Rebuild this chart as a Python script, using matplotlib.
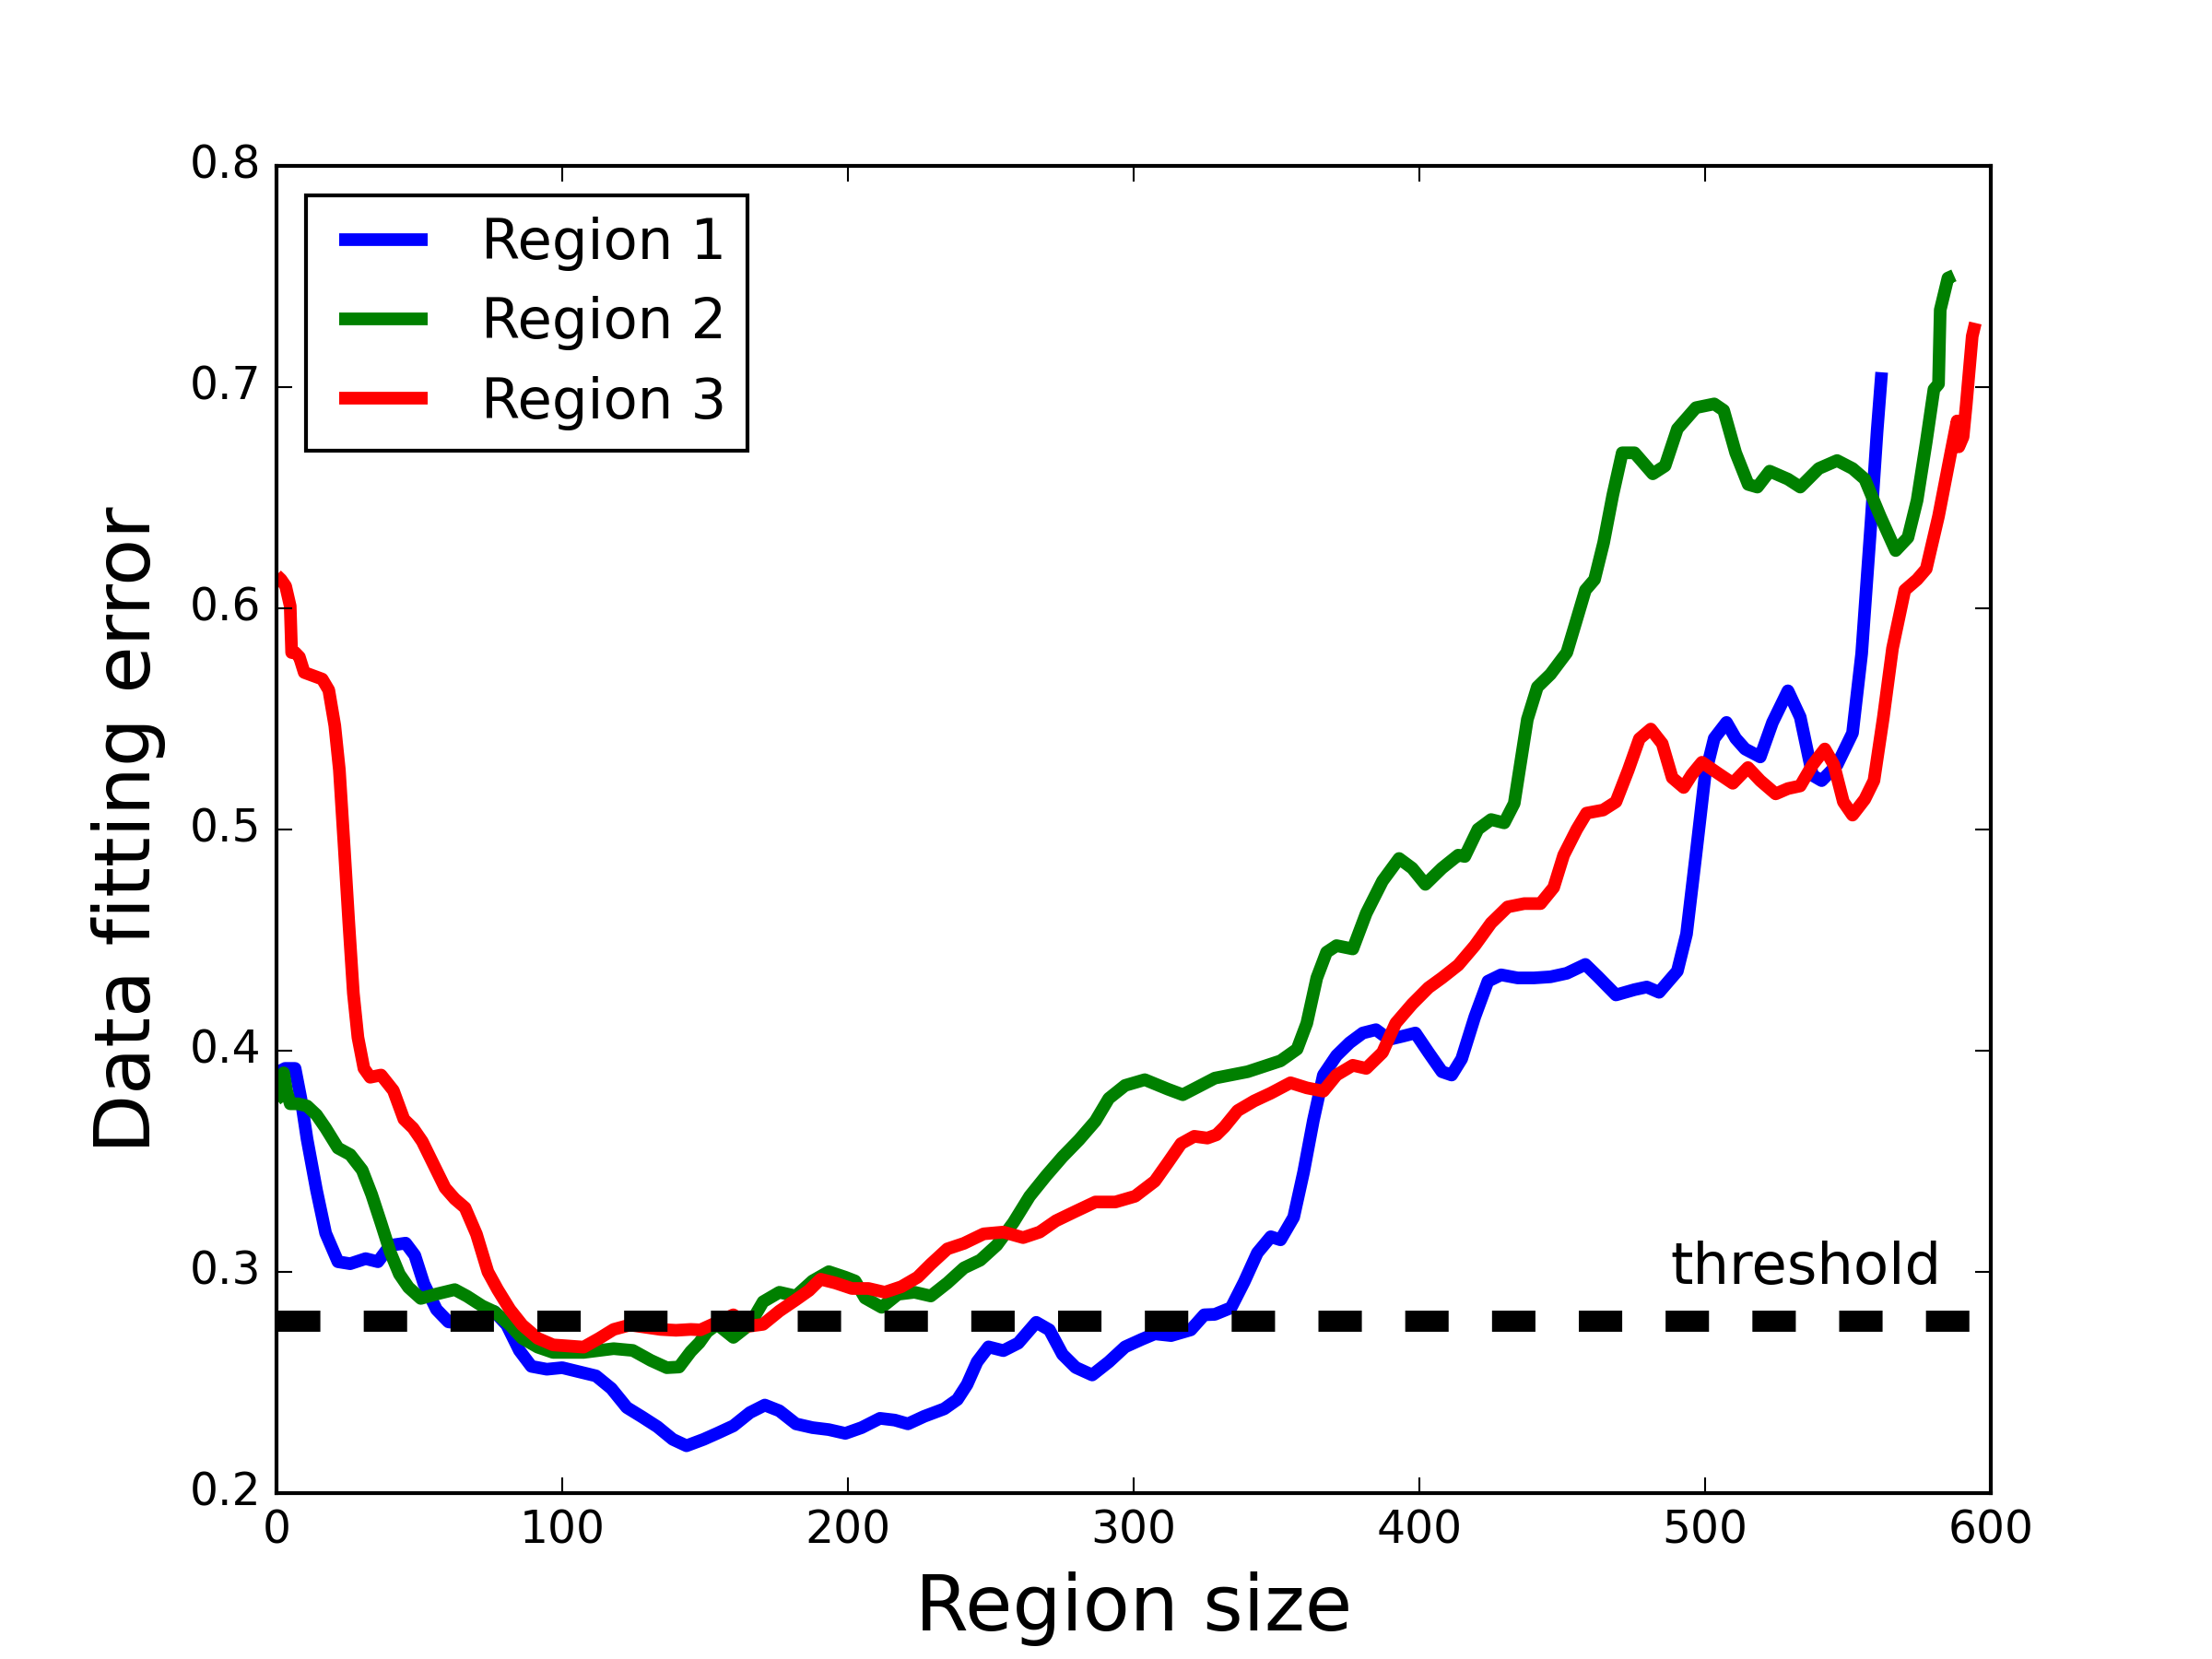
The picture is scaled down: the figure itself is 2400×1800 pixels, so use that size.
import matplotlib
matplotlib.use("Agg")
import matplotlib.pyplot as plt
from matplotlib.lines import Line2D
from matplotlib.legend_handler import HandlerLine2D

plt.style.use("classic")
plt.rcParams["font.family"] = ["DejaVu Sans"]
plt.rcParams["lines.scale_dashes"] = False

# ---- data ----
r1_x = [0, 3, 6.5, 8.6, 10.7, 14, 17.2, 21.5, 25.8, 31.2, 35.5, 39.8, 45.2, 48.4, 51.6, 56, 60.2, 64.5, 70,
        76.3, 80.6, 85, 89.2, 94.6, 100, 105.4, 111.8, 117.2, 122.6, 128, 133.3, 138.7, 143.5, 149.5, 154.2,
        159.9, 165.7, 170.9, 176, 181.8, 187.6, 193.3, 199.1, 204.8, 211.2, 216.4, 221, 226.7, 233.7, 238.3,
        241.7, 245.2, 249.2, 254.4, 259.6, 265.9, 270.5, 275.1, 279.7, 285.5, 291.3, 297, 302.8, 307.4, 313.1,
        320, 324.7, 328.4, 334.1, 338.7, 343.3, 348, 351.4, 356, 359.5, 362.9, 366.4, 371, 375.6, 380.2, 384.8,
        389.4, 394, 398.6, 403.2, 407.9, 411.3, 414.8, 419.4, 424, 428.6, 434.4, 440.1, 445.9, 451.6, 458.1,
        462.4, 468.8, 475.3, 479.6, 483.9, 490.3, 493.5, 496.8, 500, 503.2, 507.5, 510.7, 514, 519.3, 523.6,
        529, 533.3, 537.6, 540.8, 546.2, 551.6, 554.8, 558.1, 560.2, 561.8]
r1_y = [0.390, 0.392, 0.392, 0.378, 0.360, 0.337, 0.3175, 0.3046, 0.3037, 0.306, 0.3046, 0.312, 0.313, 0.3075,
        0.2946, 0.283, 0.2774, 0.2768, 0.278, 0.282, 0.276, 0.2645, 0.2573, 0.256, 0.2567, 0.255, 0.253, 0.2473,
        0.2387, 0.2344, 0.230, 0.2243, 0.2214, 0.2243, 0.227, 0.2304, 0.2364, 0.2398, 0.2372, 0.2313, 0.2296,
        0.2287, 0.227, 0.2296, 0.2338, 0.233, 0.2313, 0.2347, 0.2381, 0.2423, 0.2491, 0.2593, 0.2661, 0.2644,
        0.2678, 0.2772, 0.2738, 0.2627, 0.2568, 0.2534, 0.2593, 0.2661, 0.2695, 0.272, 0.2712, 0.2738, 0.2806,
        0.2808, 0.2838, 0.2955, 0.3086, 0.3159, 0.3145, 0.3247, 0.3452, 0.3685, 0.389, 0.3978, 0.4036, 0.408,
        0.4095, 0.4051, 0.4065, 0.408, 0.3992, 0.3905, 0.389, 0.3963, 0.4153, 0.4314, 0.4343, 0.4329, 0.4329,
        0.4334, 0.4350, 0.4390, 0.4336, 0.4252, 0.4276, 0.4288, 0.4264, 0.436, 0.4527, 0.4886, 0.5245, 0.5412,
        0.5484, 0.5412, 0.5364, 0.5328, 0.5484, 0.5627, 0.5508, 0.5245, 0.5221, 0.5292, 0.5436, 0.5795, 0.6393,
        0.6799, 0.7067]

r2_x = [0, 1, 2.5, 3.5, 4.8, 7.5, 10.7, 14, 17.2, 21.5, 25.8, 30, 33.3, 36.6, 39.8, 43, 46.2, 50.5, 56, 62.4,
        66.7, 72, 76.3, 81.7, 86, 91.4, 96.8, 107.5, 113, 118, 124.7, 131, 136.6, 140.9, 145, 148, 150.7, 154.2,
        159.9, 165.7, 170.3, 176, 181.8, 187.6, 193.3, 199.1, 202.5, 206, 211.8, 217.5, 223.3, 229, 234.8, 240.6,
        246.3, 252.1, 257.9, 263.6, 269.4, 275.1, 280.9, 286.6, 291.3, 297, 303.9, 312, 317.2, 323.5, 328.4,
        339.9, 351.4, 357.2, 360.6, 364.1, 367.5, 371, 376.7, 381.4, 387.1, 392.9, 397.5, 402.1, 407.9, 413.6,
        415.9, 420.5, 425.1, 429.7, 433.2, 437.8, 441.3, 445.9, 451.6, 454.8, 458.1, 461.3, 464.5, 467.7, 471,
        475.3, 481.7, 486, 490.3, 496.8, 503.2, 506.5, 510.7, 515.1, 518.3, 522.6, 529, 533.3, 539.8, 546.2,
        551.6, 555.9, 561.3, 566.7, 571, 574.2, 577.4, 580.1, 581.7, 582.3, 585, 587.1]
r2_y = [0.378, 0.379, 0.390, 0.382, 0.376, 0.376, 0.375, 0.371, 0.365, 0.356, 0.353, 0.346, 0.335, 0.322, 0.309,
        0.299, 0.293, 0.288, 0.290, 0.292, 0.289, 0.2846, 0.282, 0.276, 0.270, 0.266, 0.2636, 0.2636, 0.2645,
        0.2653, 0.2645, 0.260, 0.2567, 0.257, 0.264, 0.268, 0.2729, 0.2763, 0.2704, 0.2763, 0.2865, 0.2908,
        0.2891, 0.2959, 0.3001, 0.2976, 0.2959, 0.2882, 0.284, 0.2899, 0.2908, 0.2891, 0.295, 0.3018, 0.3053,
        0.3121, 0.3223, 0.3342, 0.3435, 0.352, 0.3597, 0.3682, 0.3784, 0.3843, 0.3869, 0.3826, 0.3801, 0.3843,
        0.3876, 0.3905, 0.3954, 0.4007, 0.4124, 0.4329, 0.4445, 0.4475, 0.446, 0.4621, 0.4767, 0.4869, 0.4825,
        0.4752, 0.4825, 0.4884, 0.4878, 0.5001, 0.5045, 0.503, 0.5118, 0.5498, 0.5644, 0.5702, 0.5800, 0.5938,
        0.6082, 0.613, 0.6297, 0.6512, 0.6703, 0.6703, 0.6608, 0.6644, 0.6811, 0.6907, 0.6924, 0.6895, 0.6703,
        0.656, 0.6548, 0.662, 0.6584, 0.6548, 0.6632, 0.6668, 0.6632, 0.6584, 0.6416, 0.6261, 0.632, 0.6488,
        0.6751, 0.699, 0.7014, 0.7349, 0.7493, 0.7505]

r3_x = [0, 1.6, 3.2, 4.8, 5.3, 6.5, 8, 9.7, 11.8, 16, 18.3, 20.4, 22, 23.7, 25.3, 26.9, 28.5, 30.6, 32.8, 36.6,
        40.9, 44.6, 47.8, 51, 54.8, 59, 62.4, 66, 70, 74, 77.4, 81.7, 86, 91.4, 96.8, 102, 107.5, 113, 118, 123.7,
        129, 134.4, 139.8, 145, 148.4, 154.2, 159.9, 165.7, 170.3, 176, 181.8, 186.4, 190.4, 195.6, 201.4, 207.2,
        212.9, 218.7, 224.4, 229, 234.8, 240.6, 247.5, 254.4, 261.3, 267.1, 272.8, 279.7, 286.6, 293.6, 300.5,
        307.4, 312, 316.6, 321.2, 325.8, 329, 331.8, 336.4, 342.2, 348, 354.9, 360.6, 366.4, 371, 376.7, 381.4,
        387.1, 391.7, 397.5, 403.2, 407.9, 413.6, 419.4, 425.1, 430.9, 436.7, 442.4, 447, 450.5, 455.1, 458.5,
        464.3, 468.8, 473.1, 477, 481, 485, 488.5, 492.5, 495.4, 498.9, 504.3, 509.7, 515, 519.3, 524.7, 529,
        533.3, 537.6, 541.9, 545.1, 548.4, 551.6, 555.9, 559.1, 562.4, 565.6, 569.9, 574.2, 577.4, 581.7, 586,
        588.2, 588.8, 590.3, 591.4, 593.5, 594.6]
r3_y = [0.615, 0.613, 0.610, 0.601, 0.580, 0.580, 0.578, 0.571, 0.570, 0.568, 0.563, 0.547, 0.527, 0.492, 0.458,
        0.426, 0.406, 0.392, 0.388, 0.389, 0.382, 0.369, 0.365, 0.359, 0.349, 0.338, 0.333, 0.329, 0.317, 0.300,
        0.292, 0.283, 0.276, 0.270, 0.267, 0.2665, 0.266, 0.270, 0.274, 0.276, 0.275, 0.274, 0.2736, 0.274,
        0.2738, 0.2772, 0.2806, 0.2755, 0.2763, 0.2823, 0.2874, 0.2916, 0.2967, 0.295, 0.2925, 0.2925, 0.2908,
        0.2933, 0.2976, 0.3035, 0.3104, 0.3129, 0.3172, 0.3180, 0.3155, 0.3180, 0.3231, 0.3274, 0.3316, 0.3316,
        0.3342, 0.341, 0.3494, 0.3580, 0.3613, 0.3605, 0.362, 0.3656, 0.3729, 0.3773, 0.3808, 0.3855, 0.3832,
        0.3817, 0.389, 0.3934, 0.392, 0.3992, 0.4124, 0.4211, 0.4285, 0.4329, 0.4387, 0.4475, 0.4577, 0.465,
        0.4665, 0.4665, 0.4738, 0.4884, 0.5001, 0.5074, 0.5088, 0.5125, 0.5268, 0.541, 0.5454, 0.5388, 0.5234,
        0.519, 0.5249, 0.5304, 0.5256, 0.5209, 0.528, 0.5221, 0.5161, 0.5185, 0.5197, 0.5292, 0.5364, 0.5292,
        0.5125, 0.5065, 0.5137, 0.5221, 0.5508, 0.5819, 0.6082, 0.613, 0.6178, 0.6416, 0.6703, 0.6847, 0.673,
        0.6775, 0.692, 0.723, 0.729]

series_labels = ["Region 1", "Region 2", "Region 3"]
series_colors = ["b", "g", "r"]
threshold_value = 0.278
threshold_range = [0, 595]
x_ticks = [0, 100, 200, 300, 400, 500, 600]
y_ticks = [0.2, 0.3, 0.4, 0.5, 0.6, 0.7, 0.8]

fig = plt.figure(figsize=(8, 6), dpi=300, facecolor="white")
ax = fig.add_axes([0.125, 0.1, 0.775, 0.8])

for xs, ys, lab, col in zip([r1_x, r2_x, r3_x], [r1_y, r2_y, r3_y], series_labels, series_colors):
    ax.plot(xs, ys, color=col, lw=3.3, label=lab, solid_capstyle="butt", solid_joinstyle="round")

ax.plot(threshold_range, [threshold_value, threshold_value], color="k", lw=5.5,
        linestyle=(0, (11.3, 11.3)), dash_capstyle="butt")
ax.text(488, 0.2945, "threshold", fontsize=15, ha="left", va="baseline")

ax.set_xlim(0, 600)
ax.set_ylim(0.2, 0.8)
ax.set_xticks(x_ticks)
ax.set_yticks(y_ticks)
ax.set_xticklabels([str(v) for v in x_ticks])
ax.set_yticklabels([f"{v:.1f}" for v in y_ticks])
ax.tick_params(labelsize=11.7)
ax.set_xlabel("Region size", fontsize=20)
ax.set_ylabel("Data fitting error", fontsize=20, labelpad=6.2)

leg = ax.legend(loc="upper left", fontsize=14.6, handlelength=2.0, handletextpad=0.75,
                labelspacing=0.45, borderpad=0.377, borderaxespad=0.524, frameon=True, fancybox=False,
                handler_map={Line2D: HandlerLine2D(numpoints=2, marker_pad=0.209)})
leg.get_frame().set_edgecolor("black")
leg.get_frame().set_linewidth(1.0)

fig.savefig("out.png", dpi=300, facecolor="white")
